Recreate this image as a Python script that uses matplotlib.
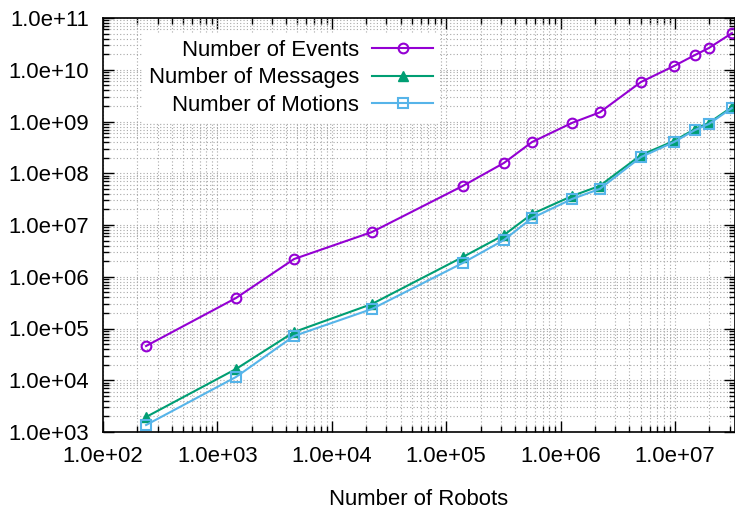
import numpy as np
import matplotlib.pyplot as plt

plt.rcParams['font.family'] = ['Liberation Sans', 'DejaVu Sans']

# number of robots (x) and counts
robots = [238, 1455, 4680, 22400, 140000, 320000, 562000, 1.26e6, 2.2e6,
          5.05e6, 9.8e6, 1.5e7, 1.98e7, 3.15e7]
events = [45900, 388000, 2.2e6, 7.3e6, 5.7e7, 1.58e8, 4.0e8, 9.4e8, 1.5e9,
          5.8e9, 1.18e10, 1.93e10, 2.63e10, 5.1e10]
messages = [1950, 16500, 85500, 297000, 2.41e6, 6.4e6, 1.63e7, 3.63e7, 5.7e7,
            2.25e8, 4.2e8, 7.2e8, 9.4e8, 1.9e9]
motions = [1365, 11570, 71600, 238000, 1.85e6, 5.13e6, 1.36e7, 3.18e7, 4.97e7,
           2.06e8, 4.0e8, 6.86e8, 8.96e8, 1.82e9]

fs = 15.9

fig = plt.figure(figsize=(7.35, 5.12), dpi=100)
ax = fig.add_axes([103 / 735, 1 - 432 / 512, 632 / 735, 414 / 512])

ax.plot(robots, events, color='#9400D3', lw=1.5, marker='o', ms=7,
        mfc='none', mew=1.5, label='Number of Events')
ax.plot(robots, messages, color='#009E73', lw=1.5, marker='^', ms=6.5,
        mew=1, label='Number of Messages')
ax.plot(robots, motions, color='#56B4E9', lw=1.5, marker='s', ms=6.5,
        mfc='none', mew=1.5, label='Number of Motions')

ax.set_xscale('log')
ax.set_yscale('log')
ax.set_xlim(100, 3.35e7)
ax.set_ylim(1e3, 1e11)

ax.set_xticks([10.0 ** k for k in range(2, 8)])
ax.set_yticks([10.0 ** k for k in range(3, 12)])
ax.set_xticklabels(['%.1e' % (10.0 ** k) for k in range(2, 8)])
ax.set_yticklabels(['%.1e' % (10.0 ** k) for k in range(3, 12)])

ax.tick_params(which='both', direction='in', top=True, right=True,
               labelsize=fs, color='black')
ax.tick_params(which='major', length=8, width=1, pad=10)
ax.tick_params(which='minor', length=4.5, width=1)
ax.grid(True, which='both', color='#a8a8a8', ls=(0, (1, 2)), lw=0.8)
for s in ax.spines.values():
    s.set_linewidth(1.2)

ax.set_xlabel('Number of Robots', fontsize=fs, labelpad=16)

leg = ax.legend(loc='upper right', bbox_to_anchor=(0.55, 0.99),
                markerfirst=False, frameon=True, fancybox=False,
                edgecolor='none', facecolor='white', framealpha=1,
                fontsize=fs, handlelength=2.75, handletextpad=0.6,
                labelspacing=0.3, borderpad=0.3)
for col in leg._legend_handle_box.get_children():
    col.align = 'right'

plt.savefig('out.png', dpi=100)
